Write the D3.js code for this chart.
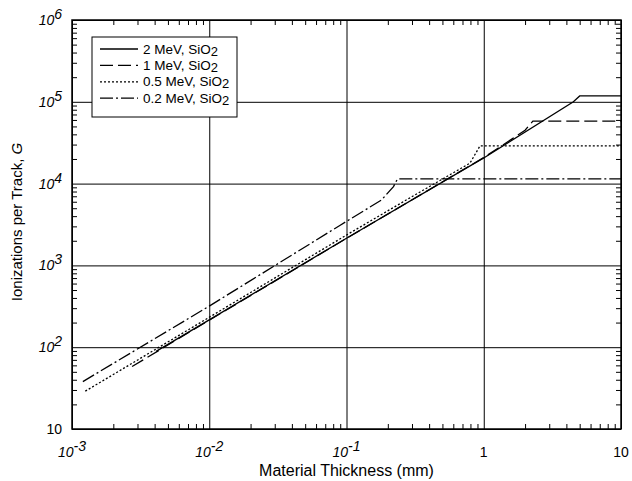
<!DOCTYPE html>
<html>
<head>
<meta charset="utf-8">
<script src="https://cdn.jsdelivr.net/npm/d3@7.9.0/dist/d3.min.js"></script>
<style>
  body { margin: 0; background: #fff; }
  svg { font-family: "Liberation Sans", Arial, sans-serif; }
  .tick line { stroke: #000; }
  .domain { display: none; }
</style>
</head>
<body>
<svg id="chart" width="632" height="481"></svg>
<script>
// values: [thickness (mm), ionizations per track]
const mev2 = [[0.0041, 89], [0.01, 216], [0.1, 2150], [1, 2.06e4], [4.5, 1.0e5], [5.0, 1.18e5], [10, 1.18e5]];
const mev1 = [[0.00274, 58], [0.01, 214], [0.1, 2140], [1, 2.08e4], [1.6, 3.5e4], [2.0, 4.5e4], [2.28, 5.8e4], [10, 5.8e4]];
const mev05 = [[0.00125, 29], [0.01, 232], [0.1, 2350], [0.29, 6700], [0.794, 1.78e4], [0.94, 2.9e4], [10, 2.9e4]];
const mev02 = [[0.0012, 38], [0.01, 318], [0.09, 3100], [0.18, 6300], [0.22, 9200], [0.235, 1.14e4], [10, 1.14e4]];

const seriesNames = ['2 MeV, SiO', '1 MeV, SiO', '0.5 MeV, SiO', '0.2 MeV, SiO'];
const seriesDash = ['none', '13,5', '2,2', '13,3,2,3'];
const seriesData = [mev2, mev1, mev05, mev02];

const xMajors = [1e-3, 1e-2, 1e-1, 1, 10];
const xLabels = [['10', '-3'], ['10', '-2'], ['10', '-1'], ['1', ''], ['10', '']];
const yMajors = [10, 1e2, 1e3, 1e4, 1e5, 1e6];
const yLabels = [['10', ''], ['10', '2'], ['10', '3'], ['10', '4'], ['10', '5'], ['10', '6']];

const margin = { top: 20, right: 11, bottom: 52, left: 72 };
const svg = d3.select('#chart');
const width = 632 - margin.left - margin.right;
const height = 481 - margin.top - margin.bottom;
const g = svg.append('g').attr('transform', `translate(${margin.left},${margin.top})`);

const x = d3.scaleLog().domain([1e-3, 10]).range([0, width]);
const y = d3.scaleLog().domain([10, 1e6]).range([height, 0]);

function minors(majors) {
  let out = [];
  majors.slice(0, -1).forEach((m) => {
    for (let k = 2; k <= 9; k++) out.push(m * k);
  });
  return out;
}

// grid lines at every decade
g.append('g')
  .attr('transform', `translate(0,${height})`)
  .call(d3.axisBottom(x).tickValues(xMajors).tickSize(-height).tickFormat(''))
  .selectAll('line').attr('stroke', '#333');
g.append('g')
  .call(d3.axisLeft(y).tickValues(yMajors).tickSize(-width).tickFormat(''))
  .selectAll('line').attr('stroke', '#333');

// minor ticks pointing inward on all four sides
const tl = 5;
g.append('g').attr('transform', `translate(0,${height})`)
  .call(d3.axisBottom(x).tickValues(minors(xMajors)).tickSize(-tl).tickFormat(''));
g.append('g')
  .call(d3.axisTop(x).tickValues(minors(xMajors)).tickSize(-tl).tickFormat(''));
g.append('g')
  .call(d3.axisLeft(y).tickValues(minors(yMajors)).tickSize(-tl).tickFormat(''));
g.append('g').attr('transform', `translate(${width},0)`)
  .call(d3.axisRight(y).tickValues(minors(yMajors)).tickSize(-tl).tickFormat(''));

g.append('rect')
  .attr('width', width).attr('height', height)
  .attr('fill', 'none').attr('stroke', '#000').attr('stroke-width', 1.5);

// curves
const line = d3.line().x((d) => x(d[0])).y((d) => y(d[1]));
seriesData.forEach((data, i) => {
  g.append('path')
    .attr('d', line(data))
    .attr('fill', 'none')
    .attr('stroke', '#000')
    .attr('stroke-width', 1.3)
    .attr('stroke-dasharray', seriesDash[i]);
});

// tick labels
function powerLabel(sel, base, exp) {
  sel.append('tspan').text(base);
  if (exp) sel.append('tspan').attr('dy', -6).text(exp);
}
xMajors.forEach((v, i) => {
  const [b, e] = xLabels[i];
  const t = g.append('text')
    .attr('x', x(v)).attr('y', height + 28)
    .attr('text-anchor', 'middle')
    .attr('font-size', 14)
    .attr('font-style', e ? 'italic' : 'normal');
  powerLabel(t, b, e);
});
yMajors.forEach((v, i) => {
  const [b, e] = yLabels[i];
  const t = g.append('text')
    .attr('x', -10).attr('y', y(v) + 5)
    .attr('text-anchor', 'end')
    .attr('font-size', 14)
    .attr('font-style', e ? 'italic' : 'normal');
  powerLabel(t, b, e);
});

// axis titles
svg.append('text')
  .attr('x', margin.left + width / 2).attr('y', 476)
  .attr('text-anchor', 'middle').attr('font-size', 16)
  .text('Material Thickness (mm)');
const yt = svg.append('text')
  .attr('transform', `translate(22,222) rotate(-90)`)
  .attr('text-anchor', 'middle').attr('font-size', 15);
yt.append('tspan').text('Ionizations per Track, ');
yt.append('tspan').attr('font-style', 'italic').text('G');

// legend
const lg = g.append('g').attr('transform', 'translate(20,17)');
lg.append('rect')
  .attr('width', 145).attr('height', 80)
  .attr('fill', '#fff').attr('stroke', '#000').attr('stroke-width', 1);
seriesNames.forEach((name, i) => {
  const yy = 12 + i * 16.4;
  lg.append('line')
    .attr('x1', 8).attr('x2', 46).attr('y1', yy).attr('y2', yy)
    .attr('stroke', '#000').attr('stroke-width', 1.3)
    .attr('stroke-dasharray', seriesDash[i]);
  const t = lg.append('text')
    .attr('x', 51).attr('y', yy + 4.5)
    .attr('font-size', 13.5);
  t.append('tspan').text(name);
  t.append('tspan').attr('dy', 2).attr('font-size', 13).text('2');
});
</script>
</body>
</html>
